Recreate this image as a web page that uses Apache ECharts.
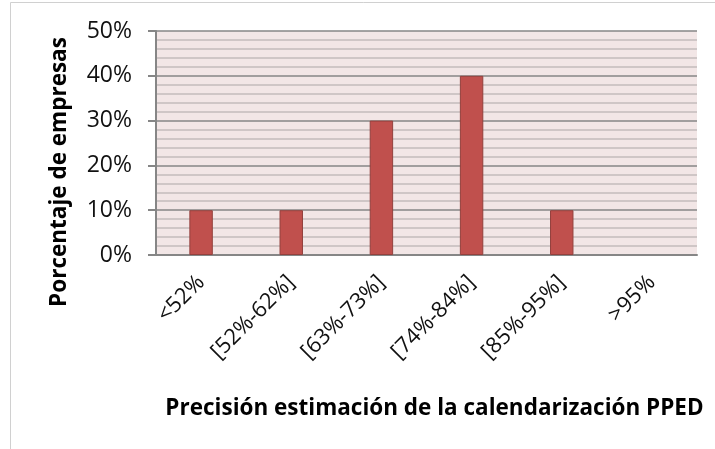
<!DOCTYPE html>
<html>
<head>
<meta charset="utf-8">
<script src="https://cdn.jsdelivr.net/npm/echarts@6/dist/echarts.min.js"></script>
<style>html,body{margin:0;padding:0;background:#fff}#c{width:715px;height:449px}</style>
</head>
<body>
<div id="c"></div>
<script>
const categories = ['<52%', '[52%-62%]', '[63%-73%]', '[74%-84%]', '[85%-95%]', '>95%'];
const values = [10, 10, 30, 40, 10, 0];
const yTicks = [0, 10, 20, 30, 40, 50];
const xTitle = 'Precisión estimación de la calendarización PPED';
const yTitle = 'Porcentaje de empresas';

const chart = echarts.init(document.getElementById('c'));
chart.setOption({
  animation: false,
  backgroundColor: '#fff',
  textStyle: { fontFamily: 'Open Sans' },
  graphic: [{
    type: 'rect', shape: { x: 10.5, y: 2.5, width: 720, height: 460 },
    style: { fill: 'none', stroke: '#d0d0d0', lineWidth: 1 }, z: -10
  }],
  grid: { left: 156, right: 18, top: 31, bottom: 194, backgroundColor: '#f2e6e6', show: true, borderWidth: 0 },
  xAxis: {
    type: 'category', data: categories,
    name: xTitle, nameLocation: 'middle', nameGap: 142,
    nameTextStyle: { fontSize: 22.5, fontWeight: 'bold', color: '#000', padding: [0, 0, 0, 16] },
    axisLine: { lineStyle: { color: '#868686', width: 2 } },
    axisTick: { show: false },
    axisLabel: { rotate: 45, fontSize: 22, color: '#111', margin: 24, interval: 0 }
  },
  yAxis: {
    type: 'value', min: 0, max: 50, interval: 10,
    name: yTitle, nameLocation: 'middle', nameGap: 85, nameRotate: 90,
    nameTextStyle: { fontSize: 22.5, fontWeight: 'bold', color: '#000', padding: [0, 58, 0, 0] },
    axisLine: { show: true, lineStyle: { color: '#868686', width: 2 } },
    axisTick: { show: true, length: 8, lineStyle: { color: '#868686', width: 2 } },
    axisLabel: { fontSize: 23, color: '#111', margin: 24, formatter: v => yTicks.includes(v) ? v + '%' : '' },
    splitLine: { lineStyle: { color: '#868686', width: 1.5 } },
    minorTick: { show: false, splitNumber: 5 },
    minorSplitLine: { show: true, lineStyle: { color: '#c4bcbc', width: 1.5 } }
  },
  series: [{
    type: 'bar', barWidth: '26%',
    data: values.map(v => v === 0 ? { value: v, itemStyle: { borderWidth: 0, opacity: 0 } } : v),
    itemStyle: { color: '#c0504d', borderColor: '#93403d', borderWidth: 1 }
  }]
});
</script>
</body>
</html>
